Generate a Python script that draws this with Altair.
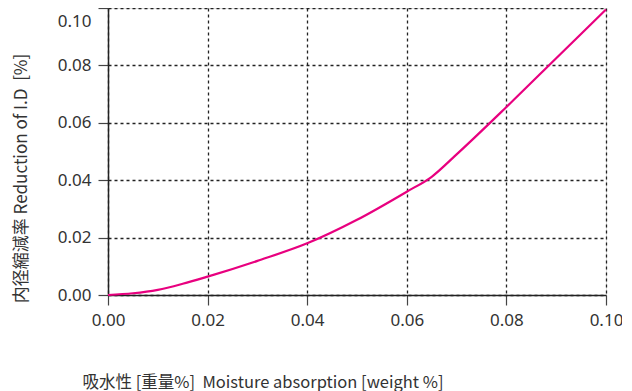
import altair as alt
import pandas as pd

# data
moisture = [0.0, 0.005, 0.01, 0.015, 0.02, 0.03, 0.04, 0.05, 0.06, 0.065, 0.07, 0.08, 0.09, 0.10]
reduction = [0.0, 0.0006, 0.0018, 0.0039, 0.0064, 0.0119, 0.0180, 0.0262, 0.0360, 0.0412, 0.0490, 0.0655, 0.0825, 0.0995]

x_ticks = [0.0, 0.02, 0.04, 0.06, 0.08, 0.10]
y_ticks = [0.0, 0.02, 0.04, 0.06, 0.08, 0.10]

x_title = "吸水性 [重量%]\u00a0 Moisture absorption [weight %]"
y_title = "内径縮減率 Reduction of I.D\u00a0 [%]"

df = pd.DataFrame({"x": moisture, "y": reduction})

TFONT = "Noto Sans CJK JP"
LFONT = "Noto Sans"

chart = alt.Chart(df).mark_line(color="#E8007F", strokeWidth=2.2, interpolate="monotone").encode(
    x=alt.X("x:Q",
            scale=alt.Scale(domain=[0, 0.1], nice=False),
            axis=alt.Axis(values=x_ticks, format=".2f", title=x_title,
                          titleAnchor="start", titleAlign="left", titleBaseline="middle",
                          titleX=-26, titleY=87, titleFontSize=16.5, titleFontWeight="normal",
                          titleFont=TFONT, titleColor="#333",
                          labelFont=LFONT, labelFontSize=17, labelColor="#333", labelPadding=7,
                          labelFlush=False, labelOverlap=False,
                          domainColor="#222", domainWidth=1.5,
                          tickColor="#444", tickSize=10, tickWidth=1.2,
                          grid=True, gridColor="#222", gridDash=[3, 3], gridWidth=1.3)),
    y=alt.Y("y:Q",
            scale=alt.Scale(domain=[0, 0.1], nice=False),
            axis=alt.Axis(values=y_ticks, format=".2f", title=y_title,
                          titleAngle=-90, titleAlign="center", titleBaseline="middle",
                          titleX=-87, titleY=170, titleFontSize=17, titleFontWeight="normal",
                          titleFont=TFONT, titleColor="#333",
                          labelFont=LFONT, labelFontSize=17, labelColor="#333", labelPadding=7,
                          labelFlush=False, labelOverlap=False,
                          labelBaseline={"condition": {"test": "datum.value >= 0.1", "value": "top"}, "value": "middle"},
                          labelOffset={"condition": {"test": "datum.value >= 0.1", "value": 5}, "value": 0},
                          domainColor="#222", domainWidth=1.5,
                          tickColor="#444", tickSize=10, tickWidth=1.2,
                          grid=True, gridColor="#222", gridDash=[3, 3], gridWidth=1.3)),
).properties(
    width=498, height=287,
    padding={"left": 100, "top": 0, "right": 16, "bottom": 96},
    autosize=alt.AutoSizeParams(type="none"),
).configure_view(
    stroke="#222", strokeWidth=1.5
).configure(background="white")

chart.save("out.html", embed_options={"renderer": "svg", "actions": False})
